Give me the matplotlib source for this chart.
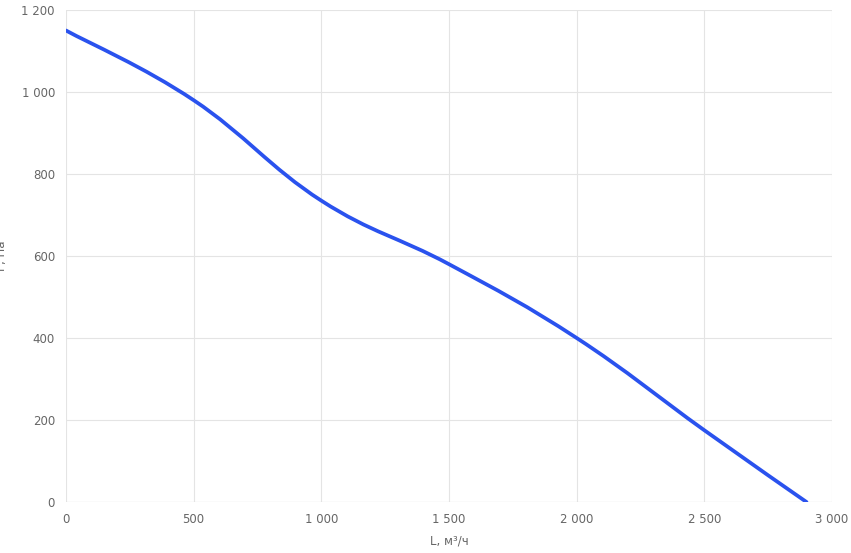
import matplotlib
matplotlib.use("Agg")
import matplotlib.pyplot as plt
from matplotlib.path import Path
from matplotlib.patches import PathPatch
from matplotlib.ticker import FuncFormatter, MultipleLocator
import numpy as np

# fan curve
flow = [0, 500, 1000, 1500, 2000, 2500, 2900]
pressure = [1150, 980, 735, 580, 400, 175, 0]

LINE = "#2a52ee"
GRID = "#e4e4e4"
TXT = "#666666"


def smooth_path(xs, ys, t=0.4):
    """Bezier path through the points (Chart.js-style tension)."""
    xs, ys = np.asarray(xs, float), np.asarray(ys, float)
    n = len(xs)
    verts, codes = [(xs[0], ys[0])], [Path.MOVETO]
    for i in range(n - 1):
        p0 = np.array([xs[max(i - 1, 0)], ys[max(i - 1, 0)]])
        p1 = np.array([xs[i], ys[i]])
        p2 = np.array([xs[i + 1], ys[i + 1]])
        p3 = np.array([xs[min(i + 2, n - 1)], ys[min(i + 2, n - 1)]])
        c1 = p1 + (p2 - p0) * t / 2
        c2 = p2 - (p3 - p1) * t / 2
        verts += [tuple(c1), tuple(c2), tuple(p2)]
        codes += [Path.CURVE4] * 3
    return Path(verts, codes)


def thou(v, _):
    return f"{int(v):,}".replace(",", " ")


fig = plt.figure(figsize=(8.51, 5.53), dpi=100)
ax = fig.add_axes([66 / 851, 51 / 553, 766 / 851, 492 / 553])
ax.add_patch(PathPatch(smooth_path(flow, pressure), fill=False, color=LINE,
                       lw=2.7, capstyle="round", joinstyle="round", zorder=3))
ax.set_xlim(0, 3000)
ax.set_ylim(0, 1200)
ax.xaxis.set_major_locator(MultipleLocator(500))
ax.yaxis.set_major_locator(MultipleLocator(200))
ax.xaxis.set_major_formatter(FuncFormatter(thou))
ax.yaxis.set_major_formatter(FuncFormatter(thou))
ax.grid(True, color=GRID, lw=0.8)
ax.set_axisbelow(True)
for s in ax.spines.values():
    s.set_visible(False)
ax.axhline(0, color="#cccccc", lw=0.8)
ax.tick_params(length=0, labelsize=8.5, labelcolor=TXT, pad=8)
ax.set_xlabel("L, м³/ч", fontsize=8.5, color=TXT, labelpad=6)
ax.set_ylabel("P, Па", fontsize=8.5, color=TXT)
ax.yaxis.set_label_coords(-58 / 766, 0.5)
fig.savefig("out.png", dpi=100)
